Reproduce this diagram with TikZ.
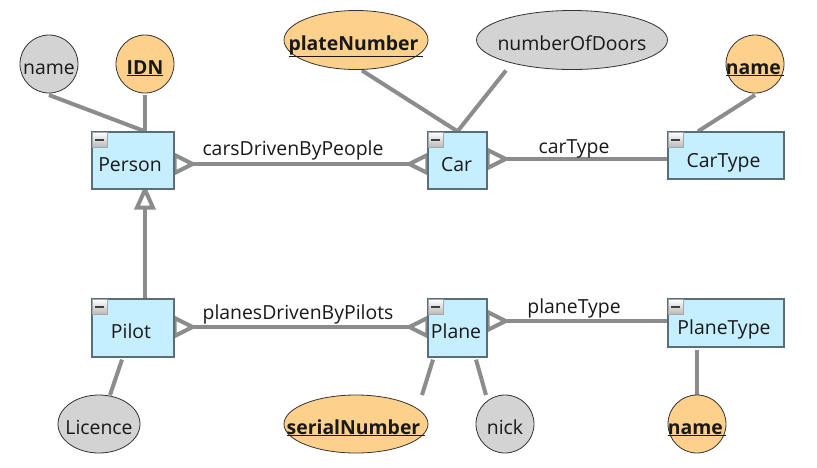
\documentclass[tikz,border=0pt]{standalone}
\usepackage{fontspec}
\setmainfont{Open Sans}
\usetikzlibrary{shapes.geometric,calc,backgrounds}
\pgfdeclarelayer{paper}
\pgfsetlayers{paper,background,main}
\definecolor{entFill}{HTML}{C5EEFF}
\definecolor{entBorder}{HTML}{5A6E78}
\definecolor{keyFill}{HTML}{FDD08B}
\definecolor{attrGray}{HTML}{D3D3D3}
\definecolor{connGray}{HTML}{8C8C8C}
% zero-width box keeps long names from widening the ellipse
\newcommand\ctrtext[1]{\makebox[0pt][c]{#1}}
\tikzset{
  basefont/.style={font=\fontsize{19.4}{22}\selectfont},
  conn/.style={draw=connGray, line width=4pt},
  crow/.style={conn, fill=white, line join=miter},
  crowfoot/.pic={\draw[crow] (0,-9) -- (18,0) -- (0,9) -- cycle;},
  entity/.style={rectangle, draw=entBorder, line width=1.3pt, fill=entFill, inner sep=0pt},
  entlabel/.style={basefont, anchor=base, text=black!90},
  rellabel/.style={basefont, anchor=base, text=black!90},
  attr/.style={draw=black!80, line width=0.8pt, inner sep=0pt, outer sep=0pt,
    text height=20pt, text depth=0pt, text=black!90},
  keyattr/.style={attr, fill=keyFill, font=\fontsize{19.4}{22}\selectfont\bfseries},
  plainattr/.style={attr, fill=attrGray, basefont},
  roundattr/.style={circle, minimum size=58pt},
  ovalattr/.style={ellipse},
  minusbtn/.style={rectangle, draw=gray!70, line width=0.8pt, minimum size=15pt,
    inner sep=0pt, top color=white, bottom color=gray!55,
    path picture={\draw[line width=2.6pt, black!75]
      ([xshift=-4.5pt]path picture bounding box.center) --
      ([xshift=4.5pt]path picture bounding box.center);}}
}
\begin{document}
\begin{tikzpicture}[x=1pt,y=-1pt]
\begin{pgfonlayer}{paper}
  \fill[white] (0,0) rectangle (817,467);
\end{pgfonlayer}
\useasboundingbox (0,0) rectangle (817,467);

% entities
\node[entity, minimum width=82pt, minimum height=57pt] (person) at (133,160.5) {};
\node[entity, minimum width=59pt, minimum height=57pt] (car) at (457.5,160.5) {};
\node[entity, minimum width=116pt, minimum height=47pt] (cartype) at (726,155.5) {};
\node[entity, minimum width=82pt, minimum height=58pt] (pilot) at (133,328) {};
\node[entity, minimum width=59pt, minimum height=58pt] (plane) at (457.5,328) {};
\node[entity, minimum width=116pt, minimum height=48pt] (planetype) at (726,323) {};

\foreach \e in {person,car,cartype,pilot,plane,planetype}
  \node[minusbtn] (\e btn) at ([xshift=8.5pt,yshift=-8.5pt]\e.north west) {};

\node[entlabel] (personT) at (130,171) {Person};
\node[entlabel] (carT) at (456.5,171) {Car};
\node[entlabel] (cartypeT) at (723.5,167) {CarType};
\node[entlabel] (pilotT) at (131,338) {Pilot};
\node[entlabel] (planeT) at (456,338) {Plane};
\node[entlabel] (planetypeT) at (724,334) {PlaneType};

% attributes
\node[plainattr, roundattr] (pname) at (49,64) {\ctrtext{name}};
\node[keyattr, roundattr] (idn) at (145,64) {\ctrtext{\underline{IDN}}};
\node[keyattr, ovalattr, minimum width=144pt, minimum height=59pt] (plate) at (356,40)
  {\ctrtext{\underline{plateNumber\ }}};
\node[plainattr, ovalattr, minimum width=191pt, minimum height=59pt] (doors) at (572,40)
  {\ctrtext{numberOfDoors}};
\node[keyattr, roundattr] (ctname) at (755,64) {\ctrtext{\underline{name\,}}};
\node[plainattr, ovalattr, minimum width=82pt, minimum height=58pt] (licence) at (99,424)
  {\ctrtext{Licence}};
\node[keyattr, ovalattr, minimum width=144pt, minimum height=58pt] (serial) at (356,424)
  {\ctrtext{\underline{serialNumber\ }}};
\node[plainattr, roundattr] (nick) at (505,424) {\ctrtext{nick}};
\node[keyattr, roundattr] (ptname) at (697,424) {\ctrtext{\underline{name\,}}};

% relationship labels
\node[rellabel] (cdbp) at (293,155) {carsDrivenByPeople};
\node[rellabel] (ctlbl) at (574,153) {carType};
\node[rellabel] (pdbp) at (298,319) {planesDrivenByPilots};
\node[rellabel] (ptlbl) at (574,313) {planeType};

\begin{scope}[on background layer]
  % attribute links
  \draw[conn] ([yshift=-2pt]pname.south) -- ([xshift=12pt]person.north);
  \draw[conn] ([yshift=-2pt]idn.south) -- ([xshift=12pt]person.north);
  \draw[conn] ([xshift=6pt,yshift=-1pt]plate.south) -- (car.north);
  \draw[conn] ([xshift=-66pt,yshift=-1pt]doors.south) -- (car.north);
  \draw[conn] ([yshift=-2pt]ctname.south) -- ([xshift=-28pt]cartype.north);
  \draw[conn] ([xshift=-11pt,yshift=-2pt]pilot.south) -- ([xshift=11pt]licence.north);
  \draw[conn] ([xshift=-24.5pt,yshift=-2pt]plane.south) -- ([xshift=66pt]serial.north);
  \draw[conn] ([xshift=18.5pt,yshift=-2pt]plane.south) -- ([xshift=-19pt]nick.north);
  \draw[conn] ([xshift=-29pt,yshift=-2pt]planetype.south) -- (ptname.north);

  % carsDrivenByPeople
  \coordinate (pcA) at ($(person.east)+(0,3.5)$);
  \coordinate (pcB) at (pcA -| car.west);
  \draw[conn] (pcA) -- (pcB);
  \pic at (pcA) {crowfoot};
  \pic[rotate=180] at (pcB) {crowfoot};

  % carType
  \coordinate (ctA) at ($(car.east)+(0,-1.5)$);
  \coordinate (ctB) at (ctA -| cartype.west);
  \draw[conn] (ctA) -- (ctB);
  \pic at (ctA) {crowfoot};

  % planesDrivenByPilots
  \coordinate (ppA) at ($(pilot.east)+(0,-1)$);
  \coordinate (ppB) at (ppA -| plane.west);
  \draw[conn] (ppA) -- (ppB);
  \pic at (ppA) {crowfoot};
  \pic[rotate=180] at (ppB) {crowfoot};

  % planeType
  \coordinate (ptA) at ($(plane.east)+(0,-7)$);
  \coordinate (ptB) at (ptA -| planetype.west);
  \draw[conn] (ptA) -- (ptB);
  \pic at (ptA) {crowfoot};

  % Pilot is a Person
  \coordinate (isaTop) at ([xshift=12pt]person.south);
  \draw[conn] ([xshift=12pt]pilot.north) -- ($(isaTop)+(0,17)$);
  \draw[crow] (isaTop) -- ++(8,18) -- ++(-16,0) -- cycle;
\end{scope}
\end{tikzpicture}
\end{document}
